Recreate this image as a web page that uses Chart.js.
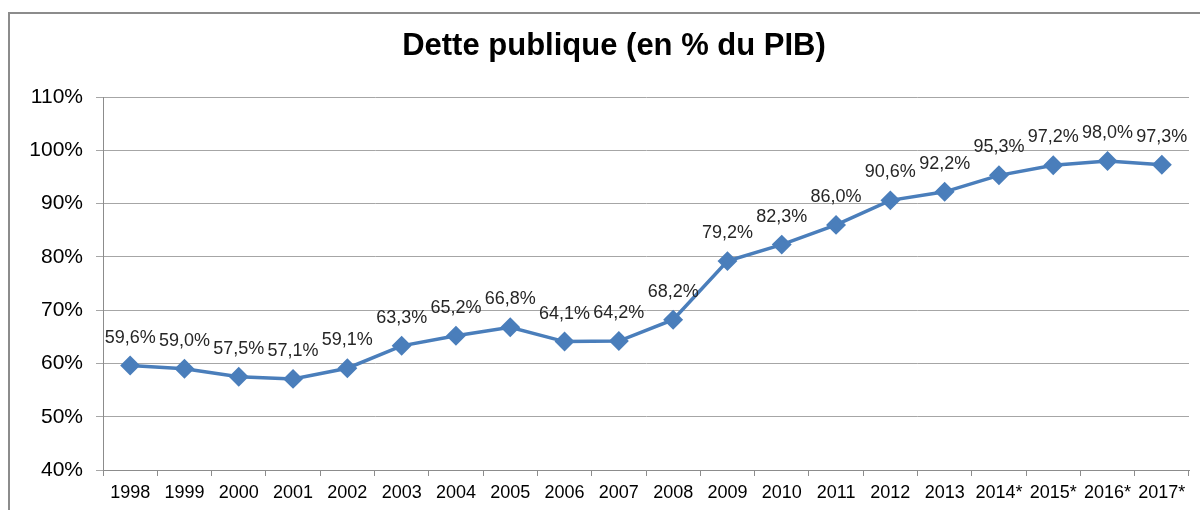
<!DOCTYPE html>
<html>
<head>
<meta charset="utf-8">
<script src="https://cdn.jsdelivr.net/npm/chart.js@4/dist/chart.umd.min.js"></script>
<style>
  body { margin: 0; background: #fff; overflow: hidden; }
  #wrap { position: relative; width: 1200px; height: 510px; }
  #frame { position: absolute; left: 8px; top: 12px; width: 1300px; height: 600px; border: 2px solid #8c8c8c; }
  canvas { position: absolute; left: 0; top: 0; }
</style>
</head>
<body>
<div id="wrap">
  <div id="frame"></div>
  <canvas id="chart" width="1200" height="510"></canvas>
</div>
<script>
const years = ['1998', '1999', '2000', '2001', '2002', '2003', '2004', '2005', '2006', '2007',
  '2008', '2009', '2010', '2011', '2012', '2013', '2014*', '2015*', '2016*', '2017*'];
const debtPct = [59.6, 59.0, 57.5, 57.1, 59.1, 63.3, 65.2, 66.8, 64.1, 64.2,
  68.2, 79.2, 82.3, 86.0, 90.6, 92.2, 95.3, 97.2, 98.0, 97.3];
const yTicks = [40, 50, 60, 70, 80, 90, 100, 110];
const chartTitle = 'Dette publique (en % du PIB)';

const FONT = 'Arial, "Liberation Sans", sans-serif';
const fmt = v => v.toFixed(1).replace('.', ',') + '%';

// title drawn by hand: in the original it sits a bit right of the canvas centre
const titleText = {
  id: 'titleText',
  afterDraw(chart) {
    const ctx = chart.ctx;
    ctx.save();
    ctx.font = 'bold 31px ' + FONT;
    ctx.fillStyle = '#000';
    ctx.textAlign = 'center';
    ctx.textBaseline = 'middle';
    ctx.fillText(chartTitle, 614, 46);
    ctx.restore();
  }
};

// draws the value above each point (no datalabels plugin available)
const valueLabels = {
  id: 'valueLabels',
  afterDatasetsDraw(chart) {
    const ctx = chart.ctx;
    const meta = chart.getDatasetMeta(0);
    ctx.save();
    ctx.font = '18px ' + FONT;
    ctx.fillStyle = '#262626';
    ctx.textAlign = 'center';
    ctx.textBaseline = 'middle';
    meta.data.forEach((pt, i) => {
      ctx.fillText(fmt(debtPct[i]), pt.x, pt.y - 28);
    });
    ctx.restore();
  }
};

new Chart(document.getElementById('chart').getContext('2d'), {
  type: 'line',
  data: {
    labels: years,
    datasets: [{
      data: debtPct,
      borderColor: '#4a7ebb',
      backgroundColor: '#4a7ebb',
      borderWidth: 3.5,
      pointStyle: 'rectRot',
      pointRadius: 7.5,
      pointHoverRadius: 7.5,
      tension: 0
    }]
  },
  options: {
    responsive: false,
    animation: false,
    layout: { padding: { left: 0, right: 11, top: 97, bottom: 0 } },
    plugins: {
      legend: { display: false },
      tooltip: { enabled: false },
      title: { display: false }
    },
    scales: {
      x: {
        offset: true,
        grid: { offset: true, drawOnChartArea: false, drawTicks: true, tickLength: 6, color: '#8c8c8c' },
        border: { display: true, color: '#8c8c8c', width: 1 },
        ticks: {
          color: '#000',
          font: { family: FONT, size: 18 },
          maxRotation: 0,
          autoSkip: false,
          padding: 6
        },
        afterFit(scale) { scale.height = 40; }
      },
      y: {
        min: 40,
        max: 110,
        afterBuildTicks(scale) { scale.ticks = yTicks.map(v => ({ value: v })); },
        grid: { color: '#a6a6a6', drawTicks: true, tickLength: 7 },
        border: { display: true, color: '#8c8c8c', width: 1 },
        ticks: {
          color: '#000',
          font: { family: FONT, size: 21 },
          padding: 13,
          callback: v => v + '%'
        },
        afterFit(scale) { scale.width = 103; }
      }
    }
  },
  plugins: [valueLabels, titleText]
});
</script>
</body>
</html>
